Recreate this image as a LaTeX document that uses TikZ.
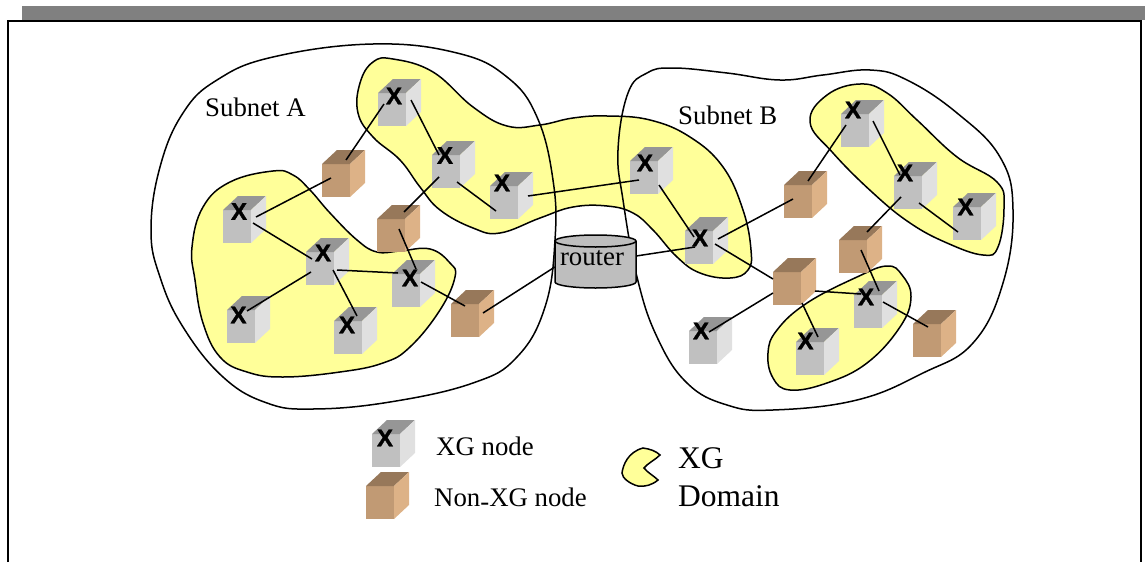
\documentclass[tikz,border=0pt]{standalone}
\usepackage{fontspec}
\setmainfont{Liberation Serif}
\newfontfamily\xfont[BoldFeatures={FakeBold=1.5}]{Liberation Sans}
\definecolor{domyellow}{HTML}{FFFF99}
\definecolor{xfront}{HTML}{C0C0C0}
\definecolor{xtop}{HTML}{969696}
\definecolor{xside}{HTML}{E0E0E0}
\definecolor{nfront}{HTML}{C19A74}
\definecolor{ntop}{HTML}{97785A}
\definecolor{nside}{HTML}{DDB287}
\definecolor{routergray}{HTML}{BEBEBE}
\definecolor{bargray}{HTML}{808080}
\tikzset{
  domainblob/.style={fill=domyellow,draw=black,line width=1.5pt},
  subnetblob/.style={draw=black,line width=1.5pt},
  link/.style={draw=black,line width=1.5pt},
  boxanchor/.style={inner sep=0pt,minimum width=43pt,minimum height=47pt,anchor=north west},
  xmark/.style={inner sep=0pt,font=\xfont\bfseries\fontsize{24}{24}\selectfont},
  lab/.style={inner sep=0pt,anchor=base west,font=\fontsize{26.8}{30}\selectfont},
  biglab/.style={inner sep=0pt,anchor=base west,font=\fontsize{31.5}{34}\selectfont}
}
% cube(name, left, top, front colour, top colour, side colour)
\newcommand{\cubefaces}[6]{%
  \node[boxanchor] (#1) at (#2,#3) {};
  \begin{scope}[shift={(#2,#3)}]
    \fill[#4] (0,14) rectangle (28,47);
    \fill[#5] (0,14) -- (15,0) -- (43,0) -- (28,14) -- cycle;
    \fill[#6] (28,14) -- (43,0) -- (43,33) -- (28,47) -- cycle;
  \end{scope}}
\newcommand{\xgcube}[5]{%
  \cubefaces{#1}{#2}{#3}{xfront}{xtop}{xside}%
  \node[xmark] (#1-x) at ([shift={(#4,#5)}]#1.north west) {X};}
\newcommand{\ngcube}[3]{\cubefaces{#1}{#2}{#3}{nfront}{ntop}{nside}}
\newcommand{\conn}[6]{\draw[link] ([shift={(#3,#4)}]#1.north west) -- ([shift={(#5,#6)}]#2.north west);}
\begin{document}
\begin{tikzpicture}[x=1pt,y=-1pt]
\useasboundingbox (0,0) rectangle (1145,562);
% frame
\fill[bargray] (22,6) rectangle (1145,20);
\draw[line width=2pt] (8,562) -- (8,20.5) -- (1141,20.5);
\draw[line width=2.4pt] (1141,20) -- (1141,562);
% domains
\path[domainblob] plot[smooth cycle,tension=0.7] coordinates {(373,62)(393,59)(433,72)(473,107)(507,126)(540,125)(573,118)(607,116)(650,120)(690,137)(723,167)(743,210)(751,250)(748,270)(730,278)(700,273)(677,257)(653,230)(633,213)(607,206)(573,207)(540,218)(500,233)(473,228)(440,210)(420,187)(400,160)(373,137)(358,113)(360,83)};
\path[domainblob] plot[smooth cycle,tension=0.7] coordinates {(273,171)(293,175)(310,190)(330,213)(357,240)(377,252)(400,251)(430,249)(450,263)(455,277)(440,310)(410,347)(383,363)(340,372)(283,377)(247,372)(220,357)(203,323)(195,280)(192,247)(203,207)(230,182)};
\path[domainblob] plot[smooth cycle,tension=0.7] coordinates {(860,84)(887,93)(917,120)(957,157)(997,182)(1004,207)(998,247)(983,255)(947,243)(910,223)(873,193)(833,153)(810,122)(827,95)};
\path[domainblob] plot[smooth cycle,tension=0.7] coordinates {(887,266)(902,275)(911,297)(900,327)(867,363)(827,383)(790,390)(773,378)(768,353)(777,330)(807,303)(857,277)};
% subnets
\path[subnetblob] plot[smooth cycle,tension=0.7] coordinates {(373,44)(457,53)(507,77)(537,117)(553,180)(555,240)(545,307)(517,357)(473,383)(390,402)(313,409)(267,403)(223,377)(183,327)(160,277)(151,230)(160,167)(183,113)(217,80)(273,57)};
\path[subnetblob] plot[smooth cycle,tension=0.7] coordinates {(673,68)(727,73)(780,80)(823,75)(870,70)(907,80)(957,113)(1000,157)(1013,210)(1003,283)(973,343)(923,373)(857,400)(773,410)(727,405)(687,383)(657,337)(637,277)(623,200)(618,150)(628,93)(647,73)};
% router
\node[inner sep=0pt,minimum width=81pt,minimum height=47pt] (router) at (595.5,264) {};
\draw[fill=routergray,line width=1.5pt] (555,241) -- (555,282) arc[start angle=180,end angle=0,x radius=40.5,y radius=6] -- (636,241) arc[start angle=0,end angle=-180,x radius=40.5,y radius=6] -- cycle;
\draw[line width=1.5pt] (555,241) arc[start angle=180,end angle=0,x radius=40.5,y radius=6];
\node[inner sep=0pt,anchor=base,font=\fontsize{26.8}{30}\selectfont] (routerlabel) at (592,265) {router};
% cubes
\xgcube{xa}{378}{79}{16}{17}
\xgcube{xb}{432}{141}{13}{14.5}
\xgcube{xc}{490}{172}{12}{11}
\ngcube{nd}{322}{150}
\xgcube{xe}{223}{196}{16}{15.5}
\ngcube{nf}{377}{205}
\xgcube{xg}{306}{238}{17}{15}
\xgcube{xh}{392}{260}{18}{18}
\xgcube{xi}{227}{296}{11.5}{19}
\xgcube{xj}{334}{307}{13}{18}
\ngcube{nk}{451}{290}
\xgcube{xl}{630}{147}{15}{16}
\xgcube{xm}{685}{217}{15}{21}
\ngcube{nn}{784}{171}
\xgcube{xo}{841}{100}{12}{10}
\xgcube{xp}{894}{162}{11}{11}
\xgcube{xq}{953}{193}{12.5}{14}
\ngcube{nr}{839}{226}
\ngcube{ns}{773}{258}
\xgcube{xt}{854}{281}{12}{16}
\ngcube{nu}{913}{310}
\xgcube{xv}{689}{317}{12}{14}
\xgcube{xw}{796}{328}{9.5}{13}
% connectors
\conn{xa}{nd}{6}{25}{24}{10}
\conn{xa}{xb}{33}{21}{7}{14}
\conn{xb}{nf}{7}{36}{27}{7}
\conn{xb}{xc}{25}{41}{6}{39}
\conn{xc}{xl}{38}{24}{9}{33}
\conn{xl}{xm}{29}{38}{9}{20}
\conn{xm}{nn}{33}{22}{9}{28}
\conn{xm}{ns}{30}{27}{0}{21}
\draw[link] ([shift={(10,30)}]xm.north west) -- ([shift={(0,-8)}]router.east);
\draw[link] ([shift={(0,3)}]router.west) -- ([shift={(32,23)}]nk.north west);
\conn{nk}{xh}{14}{16}{29}{22}
\conn{xh}{nf}{24}{9}{22}{24}
\conn{xh}{xg}{6}{13}{31}{32}
\conn{xg}{xe}{6}{21}{30}{27}
\conn{xe}{nd}{33}{21}{9}{28}
\conn{xg}{xi}{5}{34}{20}{15}
\conn{xg}{xj}{27}{32}{23}{9}
\conn{nn}{xo}{24}{10}{5}{25}
\conn{xo}{xp}{32}{21}{6}{13}
\conn{xp}{nr}{7}{35}{28}{6}
\conn{xp}{xq}{25}{41}{5}{39}
\conn{nr}{xt}{22}{24}{25}{10}
\conn{xt}{nu}{29}{21}{15}{17}
\conn{xt}{ns}{7}{13}{42}{33}
\conn{ns}{xw}{29}{45}{22}{9}
\conn{ns}{xv}{0}{35}{20}{15}
% labels
\node[lab] (suba) at (205,116) {Subnet A};
\node[lab] (subb) at (678,124) {Subnet B};
% legend
\xgcube{lx}{372}{420}{13}{18}
\ngcube{ln}{366}{472}
\node[lab] (lxt) at (436,455) {XG node};
\node[lab] (lnt) at (434,506.7) {Non\raisebox{-4pt}{-}XG node};
\draw[domainblob] (660,455) .. controls (655,460) and (648,463) .. (644,468) .. controls (648,473) and (654,476) .. (658,480) .. controls (652,485) and (645,487) .. (638,486) .. controls (630,484) and (622,478) .. (622,473) .. controls (623,465) and (628,452) .. (643,448) .. controls (650,449) and (656,451) .. (660,455) -- cycle;
\node[biglab] (ldt1) at (678,468) {XG};
\node[biglab] (ldt2) at (678,506) {Domain};
\end{tikzpicture}
\end{document}
